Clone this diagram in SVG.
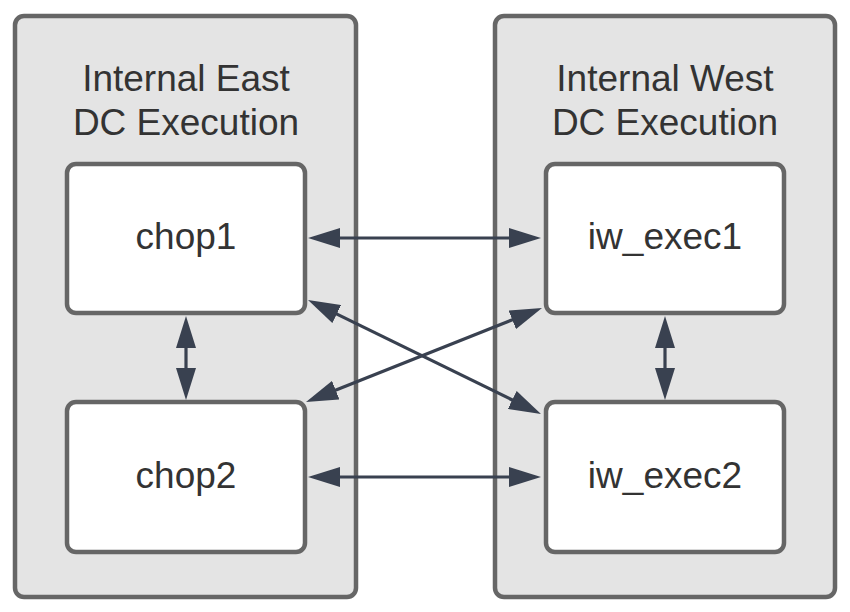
<svg xmlns="http://www.w3.org/2000/svg" width="850" height="612" viewBox="0 0 850 612">
<style>
.container{fill:#e4e4e4;stroke:#666;stroke-width:4.5}
.node{fill:#fff;stroke:#666;stroke-width:4.5}
.title,.label{font-family:"Liberation Sans",Arial,sans-serif;font-size:37px;fill:#333;text-anchor:middle}
.conn{stroke:#394150;stroke-width:3.2;fill:none;marker-start:url(#ah);marker-end:url(#ah)}
</style>
<defs>
<marker id="ah" markerUnits="userSpaceOnUse" markerWidth="32" markerHeight="20" viewBox="0 0 32 20" refX="22" refY="10" orient="auto-start-reverse">
<path d="M0,0 L32,10 L0,20 Z" fill="#394150"/>
</marker>
</defs>
<rect width="850" height="612" fill="#fff"/>
<g id="east">
<rect class="container" x="15" y="16" width="341" height="581" rx="9"/>
<text class="title" x="186" y="91">Internal East</text>
<text class="title" x="186" y="135">DC Execution</text>
</g>
<g id="west">
<rect class="container" x="495" y="16" width="340" height="581" rx="9"/>
<text class="title" x="665" y="91">Internal West</text>
<text class="title" x="665" y="135">DC Execution</text>
</g>
<g id="chop1">
<rect class="node" x="67" y="164" width="238" height="149" rx="9"/>
<text class="label" x="186" y="249">chop1</text>
</g>
<g id="chop2">
<rect class="node" x="67" y="402" width="238" height="150" rx="9"/>
<text class="label" x="186" y="488">chop2</text>
</g>
<g id="iw_exec1">
<rect class="node" x="546" y="164" width="238" height="149" rx="9"/>
<text class="label" x="665" y="249">iw_exec1</text>
</g>
<g id="iw_exec2">
<rect class="node" x="546" y="402" width="238" height="150" rx="9"/>
<text class="label" x="665" y="488">iw_exec2</text>
</g>
<g id="connectors">
<line class="conn" x1="318" y1="238" x2="531" y2="238"/>
<line class="conn" x1="318" y1="477" x2="531" y2="477"/>
<line class="conn" x1="317" y1="304.4" x2="532" y2="409.6"/>
<line class="conn" x1="532.7" y1="311.7" x2="315.3" y2="398.3"/>
<line class="conn" x1="186" y1="326" x2="186" y2="390"/>
<line class="conn" x1="665" y1="326" x2="665" y2="390"/>
</g>
</svg>
